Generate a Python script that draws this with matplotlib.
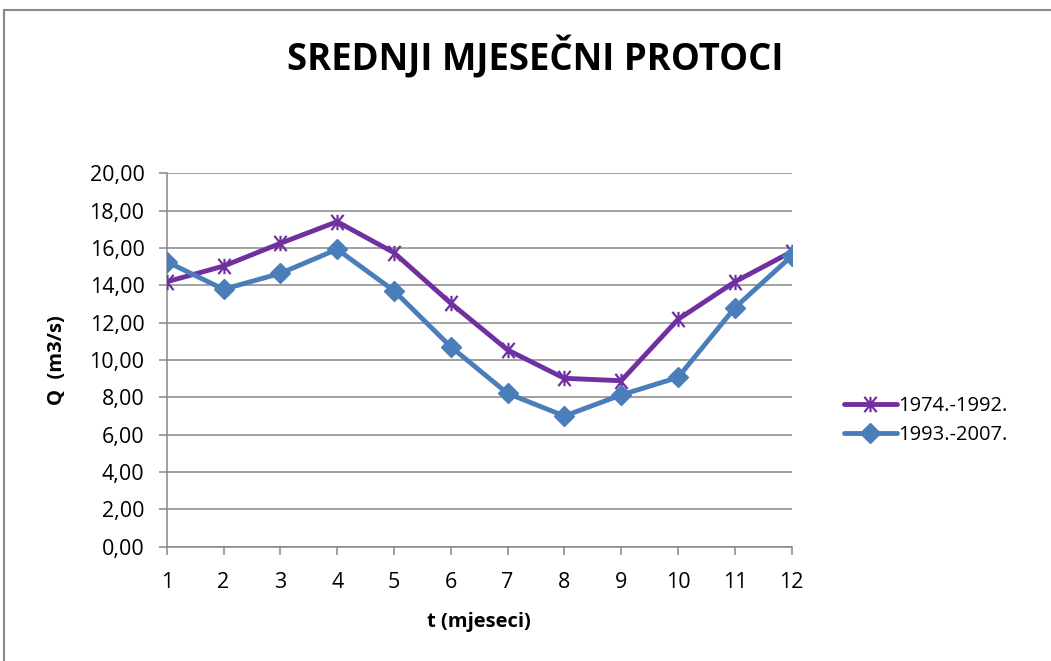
import matplotlib
matplotlib.use("Agg")
import matplotlib.pyplot as plt
from matplotlib.path import Path
from matplotlib.patches import Rectangle

# monthly mean discharge (m3/s)
months = [1, 2, 3, 4, 5, 6, 7, 8, 9, 10, 11, 12]
q_1974_1992 = [14.19, 15.03, 16.25, 17.41, 15.75, 13.04, 10.54, 9.02, 8.89, 12.18, 14.19, 15.80]
q_1993_2007 = [15.27, 13.79, 14.64, 15.93, 13.71, 10.71, 8.21, 7.00, 8.13, 9.07, 12.80, 15.57]
y_ticks = [0, 2, 4, 6, 8, 10, 12, 14, 16, 18, 20]
labels = ['1974.-1992.', '1993.-2007.']

plt.rcParams['font.family'] = ['Open Sans', 'DejaVu Sans']

# excel-style star: vertical bar plus an X
star = Path([(0, -1), (0, 1), (-0.8, -1), (0.8, 1), (-0.8, 1), (0.8, -1)],
            [Path.MOVETO, Path.LINETO, Path.MOVETO, Path.LINETO, Path.MOVETO, Path.LINETO])

fig = plt.figure(figsize=(10.51, 6.61), dpi=100)
ax = fig.add_axes([0.1586, 0.1729, 0.7533 - 0.1586, 0.7378 - 0.1729])

ax.plot(months, q_1974_1992, color='#7030A0', lw=3.5, marker=star, ms=11,
        mec='#7030A0', mew=1.6, label=labels[0], solid_capstyle='round', zorder=3)
ax.plot(months, q_1993_2007, color='#4A7EBB', lw=3.5, marker='D', ms=10,
        mec='#4A7EBB', mfc='#4A7EBB', label=labels[1], solid_capstyle='round', zorder=3)

ax.set_xlim(1, 12)
ax.set_ylim(0, 20)
ax.set_xticks(months)
ax.set_yticks(y_ticks)
ax.set_yticklabels([('%.2f' % v).replace('.', ',') for v in y_ticks])
ax.grid(axis='y', color='#888888', lw=1.1)
ax.set_axisbelow(True)
for s in ['top', 'right']:
    ax.spines[s].set_visible(False)
for s in ['left', 'bottom']:
    ax.spines[s].set_color('#888888')
    ax.spines[s].set_linewidth(1.1)
ax.tick_params(axis='both', colors='#888888', labelcolor='black', labelsize=15.5,
               length=6, width=1.1)
ax.tick_params(axis='x', pad=12)
ax.tick_params(axis='y', pad=10)

ax.set_xlabel('t (mjeseci)', fontsize=14.5, fontweight='bold', labelpad=14)
ax.set_ylabel('Q  (m3/s)', fontsize=14.5, fontweight='bold', labelpad=16)
fig.text(0.509, 0.913, 'SREDNJI MJESEČNI PROTOCI', ha='center', va='center',
         fontsize=26.3, fontweight='bold')

ax.legend(loc='center left', bbox_to_anchor=(1.055, 0.338), frameon=False,
          fontsize=14.5, handlelength=2.6, handletextpad=0.1, labelspacing=0.45)

fig.patches.append(Rectangle((0.004, -0.01), 1.2, 0.995, transform=fig.transFigure,
                             fill=False, ec='#888888', lw=1.5))

fig.savefig('out.png', dpi=100)
